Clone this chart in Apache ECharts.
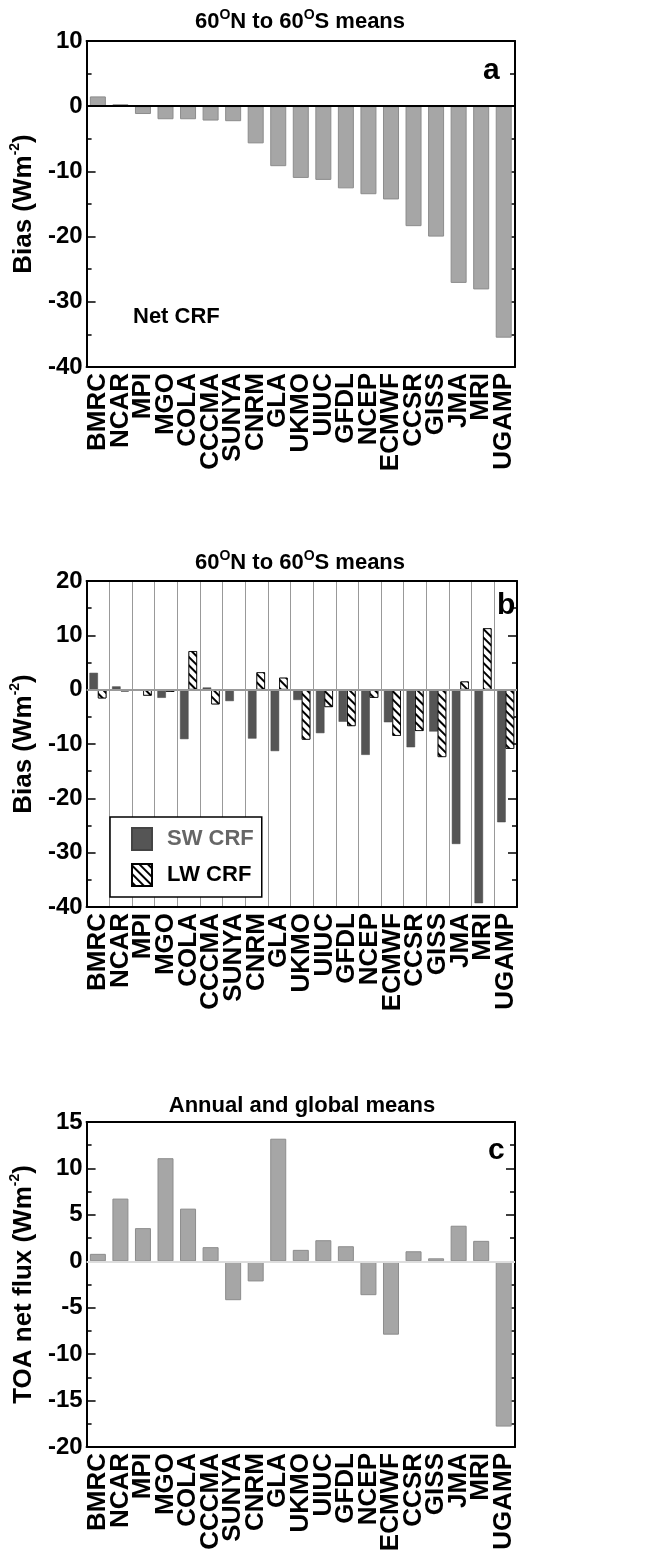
<!DOCTYPE html>
<html>
<head>
<meta charset="utf-8">
<script src="https://cdn.jsdelivr.net/npm/echarts@6/dist/echarts.min.js"></script>
<style>
  html, body { margin: 0; padding: 0; background: #fff; }
  #main { width: 653px; height: 1556px; }
</style>
</head>
<body>
<div id="main"></div>
<script>
// model names along the x axis
const models = ['BMRC','NCAR','MPI','MGO','COLA','CCCMA','SUNYA','CNRM','GLA','UKMO',
  'UIUC','GFDL','NCEP','ECMWF','CCSR','GISS','JMA','MRI','UGAMP'];
// panel a: net CRF bias, 60N-60S
const netCrf = [1.5,0.3,-1.2,-2.0,-2.0,-2.2,-2.3,-5.7,-9.2,-11.0,-11.3,-12.6,-13.5,-14.3,-18.4,-20.0,-27.1,-28.1,-35.5];
// panel b: SW and LW CRF bias
const swCrf = [3.1,0.6,-0.1,-1.5,-9.1,0.4,-2.1,-9.0,-11.3,-1.9,-8.0,-5.9,-12.0,-6.0,-10.6,-7.7,-28.4,-39.3,-24.4];
const lwCrf = [-1.6,-0.3,-1.1,-0.4,7.1,-2.7,-0.1,3.2,2.2,-9.2,-3.2,-6.7,-1.5,-8.5,-7.6,-12.4,1.5,11.3,-10.9];
// panel c: TOA net flux, annual global mean
const toaFlux = [0.8,6.75,3.57,11.1,5.67,1.52,-4.19,-2.17,13.2,1.23,2.27,1.62,-3.65,-7.9,1.08,0.32,3.83,2.2,-17.8];

const FONT = 'Liberation Sans';
const sup = { fontSize: 14, fontWeight: 'bold', fontFamily: FONT, color: '#000', verticalAlign: 'top', lineHeight: 14 };

function catAxis(grid, pos, showLabel, split) {
  return {
    type: 'category', gridIndex: grid, position: pos, data: models,
    axisLine: { onZero: false, lineStyle: { color: '#000', width: 2 } },
    axisTick: { inside: true, length: 9, lineStyle: { color: '#000', width: 1.5 }, interval: 0 },
    axisLabel: { show: showLabel, interval: 0, rotate: 90, margin: 6,
      fontFamily: FONT, fontWeight: 'bold', fontSize: 26, color: '#000' },
    splitLine: { show: !!split, interval: 0, lineStyle: { color: '#999', width: 1 } }
  };
}

function valAxis(grid, pos, min, max, interval, minorSplit, name, gap) {
  return {
    type: 'value', gridIndex: grid, position: pos, min: min, max: max, interval: interval,
    axisLine: { show: true, lineStyle: { color: '#000', width: 2 } },
    axisTick: { show: true, inside: true, length: 9, lineStyle: { color: '#000', width: 1.5 } },
    minorTick: { show: true, splitNumber: minorSplit, length: 5, lineStyle: { color: '#000', width: 1.5 } },
    axisLabel: { show: pos === 'left', margin: 4, fontFamily: FONT, fontWeight: 'bold', fontSize: 24, color: '#000' },
    splitLine: { show: false },
    name: pos === 'left' ? name : '',
    nameLocation: 'middle', nameGap: gap,
    nameTextStyle: { fontFamily: FONT, fontWeight: 'bold', fontSize: 26, color: '#000',
      rich: { n: { fontFamily: FONT, fontWeight: 'bold', fontSize: 26, color: '#000', lineHeight: 32 }, s: sup } }
  };
}

function zeroLine(color) {
  return { silent: true, symbol: ['none', 'none'], label: { show: false },
    lineStyle: { color: color, width: 2, type: 'solid' }, data: [{ yAxis: 0 }] };
}

const grayBar = { color: '#a6a6a6', borderColor: '#8c8c8c', borderWidth: 1 };

function bigTitle(text, x, y) {
  return { text: text, left: x, top: y, textAlign: 'center', padding: 0,
    textStyle: { fontFamily: FONT, fontWeight: 'bold', fontSize: 22, color: '#000',
      rich: { n: { fontFamily: FONT, fontWeight: 'bold', fontSize: 22, color: '#000', lineHeight: 28 }, s: sup } } };
}
function tag(text, x, y, size) {
  return { text: text, left: x, top: y, padding: 0,
    textStyle: { fontFamily: FONT, fontWeight: 'bold', fontSize: size, color: '#000' } };
}

const chart = echarts.init(document.getElementById('main'));
const option = {
  animation: false,
  backgroundColor: '#fff',
  title: [
    bigTitle('{n|60}{s|O}{n|N to 60}{s|O}{n|S means}', 300, 8),
    bigTitle('{n|60}{s|O}{n|N to 60}{s|O}{n|S means}', 300, 549),
    bigTitle('Annual and global means', 302, 1095),
    tag('a', 483, 56, 30),
    tag('b', 497, 591, 30),
    tag('c', 488, 1136, 30),
    tag('Net CRF', 133, 306, 22)
  ],
  grid: [
    { left: 79, right: 138, top: 41, height: 326 },
    { left: 81, right: 136, top: 581, height: 326 },
    { left: 79, right: 138, top: 1122, height: 325 }
  ],
  xAxis: [
    catAxis(0, 'bottom', true), catAxis(0, 'top', false),
    catAxis(1, 'bottom', true, true), catAxis(1, 'top', false),
    catAxis(2, 'bottom', true), catAxis(2, 'top', false)
  ],
  yAxis: [
    valAxis(0, 'left', -40, 10, 10, 2, '{n|Bias (Wm}{s|-2}{n|)}', 40), valAxis(0, 'right', -40, 10, 10, 2),
    valAxis(1, 'left', -40, 20, 10, 2, '{n|Bias (Wm}{s|-2}{n|)}', 40), valAxis(1, 'right', -40, 20, 10, 2),
    valAxis(2, 'left', -20, 15, 5, 2, '{n|TOA net flux (Wm}{s|-2}{n|)}', 38), valAxis(2, 'right', -20, 15, 5, 2)
  ],
  legend: {
    orient: 'vertical', left: 110, top: 817,
    padding: [10, 8, 10, 21], itemGap: 12, itemWidth: 20, itemHeight: 22,
    backgroundColor: '#fff', borderColor: '#000', borderWidth: 1.5, borderRadius: 0,
    textStyle: { fontFamily: FONT, fontWeight: 'bold', fontSize: 22, padding: [0, 0, 0, 10] },
    data: [
      { name: 'SW CRF', icon: 'rect', textStyle: { color: '#666' } },
      { name: 'LW CRF', icon: 'rect', textStyle: { color: '#000' } }
    ]
  },
  series: [
    { name: 'Net CRF', type: 'bar', xAxisIndex: 0, yAxisIndex: 0, data: netCrf,
      barWidth: 16, itemStyle: grayBar, markLine: zeroLine('#000') },
    { name: 'SW CRF', type: 'bar', xAxisIndex: 2, yAxisIndex: 2, data: swCrf,
      barWidth: 8.5, barGap: '0%', itemStyle: { color: '#555', borderColor: '#444', borderWidth: 0.5 },
      markLine: zeroLine('#999') },
    { name: 'LW CRF', type: 'bar', xAxisIndex: 2, yAxisIndex: 2, data: lwCrf,
      barWidth: 8.5, barGap: '0%',
      itemStyle: { color: '#fff', borderColor: '#000', borderWidth: 0.8,
        decal: { symbol: 'rect', symbolSize: 1, dashArrayX: [1, 0], dashArrayY: [2, 4],
          rotation: Math.PI / 4, color: '#000', backgroundColor: '#fff' } } },
    { name: 'TOA', type: 'bar', xAxisIndex: 4, yAxisIndex: 4, data: toaFlux,
      barWidth: 16, itemStyle: grayBar, markLine: zeroLine('#ddd') }
  ]
};
chart.setOption(option);
</script>
</body>
</html>
